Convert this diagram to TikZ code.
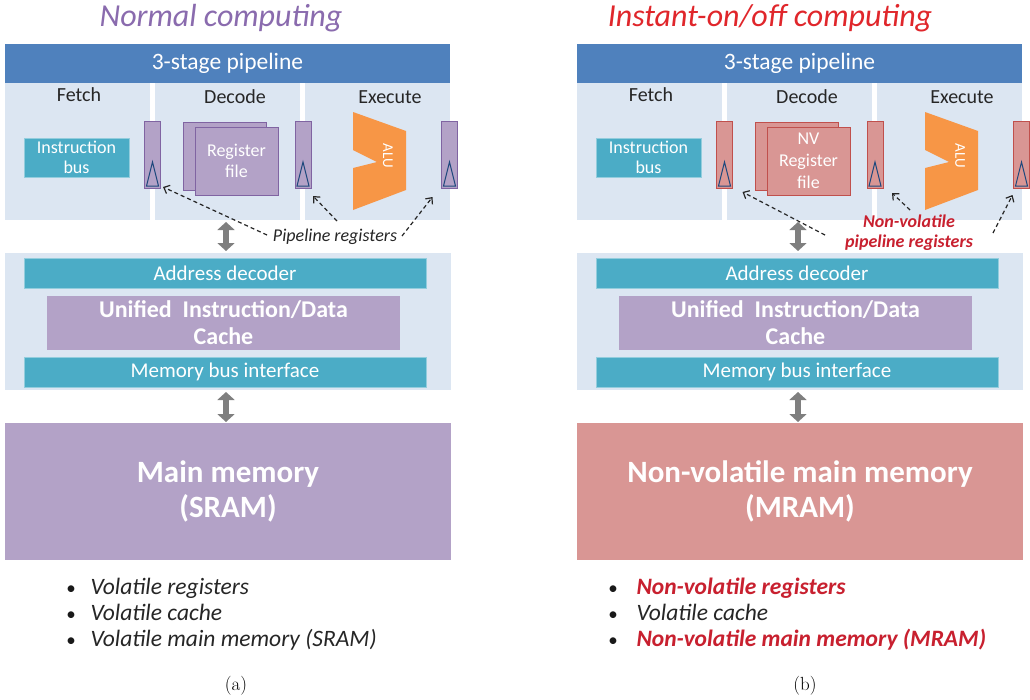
\documentclass[tikz,border=0pt]{standalone}
\usepackage{fontspec}
\setmainfont{Carlito}
\newfontfamily\lmr{Latin Modern Roman}
\usetikzlibrary{arrows.meta,calc}
\definecolor{hdrc}{HTML}{4F81BD}
\definecolor{panec}{HTML}{DCE6F2}
\definecolor{busc}{HTML}{4BACC6}
\definecolor{purc}{HTML}{B3A2C7}
\definecolor{purd}{HTML}{8064A2}
\definecolor{redc}{HTML}{D99694}
\definecolor{redd}{HTML}{C0504D}
\definecolor{aluc}{HTML}{F79646}
\definecolor{tric}{HTML}{1F497D}
\definecolor{titp}{HTML}{8A6BAE}
\definecolor{titr}{HTML}{E0262B}
\definecolor{nvred}{HTML}{C8202F}
\definecolor{arrg}{HTML}{7F7F7F}
\newcommand\fsz[2]{\fontsize{#1}{#2}\selectfont}
\begin{document}
\begin{tikzpicture}[x=1pt,y=-1pt,
 box/.style={rectangle,inner sep=0pt,outer sep=0pt},
 pane/.style={box,fill=panec},
 hdr/.style={box,fill=hdrc,text=white,font=\fsz{23.5}{28},minimum width=445pt,minimum height=39pt},
 sect/.style={pane,minimum width=145pt,minimum height=137pt},
 bus/.style={box,fill=busc,draw=busc!60!white,line width=0.6pt,text=white},
 preg/.style={box,minimum width=16pt,minimum height=67pt,line width=0.8pt},
 tri/.style={draw=tric,line width=1pt},
 rfile/.style={box,minimum width=83pt,minimum height=68pt,line width=0.8pt,text=white,align=center,font=\fsz{18}{21}},
 stage/.style={font=\fsz{20}{24},text=black!85},
 parrow/.style={dash pattern=on 4pt off 3pt,line width=1.2pt,black!85,-{Straight Barb[length=5pt,width=9pt]}},
 dbl/.style={line width=6pt,arrg,{Triangle[length=8pt,width=17pt]}-{Triangle[length=8pt,width=17pt]}},
 bdot/.style={anchor=base,font=\fsz{19}{22},text=black!90},
 bull/.style={anchor=base west,font=\fsz{23.5}{26}\itshape,text=black!85},
 nvbull/.style={bull,font=\fsz{23.5}{26}\bfseries\itshape,text=nvred},
 wide/.style={box,minimum width=446pt,minimum height=137pt},
 bar/.style={bus,minimum width=402pt,minimum height=30pt,font=\fsz{21}{24}},
 cache/.style={box,fill=purc,minimum width=353pt,minimum height=54pt,text=white,align=center,font=\fsz{24}{27}\bfseries},
 mainm/.style={wide,text=white,align=center,font=\fsz{31}{35}\bfseries},
 sub/.style={font=\lmr\fsz{19}{24}}
]
\useasboundingbox[fill=white] (0,0) rectangle (1030,699);

% ================= (a) =================
\node[font=\fsz{32}{36}\itshape,text=titp] (titleL) at (221,18) {Normal computing};
\node[hdr] (hdrL) at (227.5,63.5) {3-stage pipeline};
\node[box,minimum width=445pt,minimum height=176pt] (pipeL) at (227.5,132) {};
\node[sect] (fetchL) at (77.5,151.5) {};
\node[sect] (decL) at (227.5,151.5) {};
\node[sect] (exeL) at (377.5,151.5) {};
\node[stage] (fL) at (79,95) {Fetch};
\node[stage] (dL) at (235,97) {Decode};
\node[stage] (eL) at (390,97) {Execute};
\node[bus,minimum width=105pt,minimum height=39pt,align=center,font=\fsz{18}{20}] (ibL) at (76.5,157.5) {Instruction\\bus};
\node[rfile,fill=purc,draw=purd] (rfbL) at (225,156) {};
\node[rfile,fill=purc,draw=purd] (rffL) at (236.5,161) {Register\\file};
\node[preg,fill=purc,draw=purd] (r1L) at (152.5,154.5) {};
\node[preg,fill=purc,draw=purd] (r2L) at (303,154.5) {};
\node[preg,fill=purc,draw=purd] (r3L) at (449.5,154.5) {};
\foreach \r in {r1L,r2L,r3L}
  \draw[tri] ([xshift=-6pt,yshift=2pt]\r.south) -- ([yshift=26pt]\r.south) -- ([xshift=6pt,yshift=2pt]\r.south) -- cycle;
\fill[aluc] (353,112) -- (406,131) -- (406,190) -- (353,210) -- (353,168) -- (377,162) -- (353,150) -- cycle;
\node[rotate=-90,text=white,font=\fsz{15}{17}] (aluL) at (388,156) {ALU};
\node[font=\fsz{18}{21}\itshape,text=black!85] (plL) at (335,237) {Pipeline registers};
\coordinate (a1L) at (267,235);
\coordinate (a2L) at (337,221);
\coordinate (a3L) at (402,236);
\draw[parrow] (a1L) -- ($(r1L.south east)+(2.5,-1)$);
\draw[parrow] (a2L) -- ($(r2L.south east)+(2,8)$);
\draw[parrow] (a3L) -- ($(r3L.south west)+(-9,9)$);
\node[pane,minimum width=446pt,minimum height=137pt] (memL) at (228,321.5) {};
\node[bar] (adL) at (225,273) {Address decoder};
\node[cache] (cacheL) at (223.5,323) {Unified\ \ Instruction/Data\\Cache};
\node[bar] (mbL) at (225,372) {Memory bus interface};
\node[mainm,fill=purc] (mainL) at (228,491.5) {Main memory\\(SRAM)};
\draw[dbl] ($(pipeL.south)+(-1.5,2)$) -- ($(pipeL.south |- memL.north)+(-1.5,-2)$);
\draw[dbl] ($(memL.south)+(-2,2)$) -- ($(memL.south |- mainL.north)+(-2,-1)$);
\node[bdot] (d1L) at (71,594) {•};
\node[bdot] (d2L) at (71,620) {•};
\node[bdot] (d3L) at (71,646) {•};
\node[bull] (t1L) at (87,594) {Volatile registers};
\node[bull] (t2L) at (87,620) {Volatile cache};
\node[bull] (t3L) at (87,646) {Volatile main memory (SRAM)};
\node[sub] (capL) at (236,686) {(a)};

% ================= (b) =================
\node[font=\fsz{32}{36}\itshape,text=titr] (titleR) at (770,18) {Instant-on/off computing};
\begin{scope}[xshift=572pt]
\node[hdr] (hdrR) at (227.5,63.5) {3-stage pipeline};
\node[box,minimum width=445pt,minimum height=176pt] (pipeR) at (227.5,132) {};
\node[sect] (fetchR) at (77.5,151.5) {};
\node[sect] (decR) at (227.5,151.5) {};
\node[sect] (exeR) at (377.5,151.5) {};
\node[stage] (fR) at (79,95) {Fetch};
\node[stage] (dR) at (235,97) {Decode};
\node[stage] (eR) at (390,97) {Execute};
\node[bus,minimum width=105pt,minimum height=39pt,align=center,font=\fsz{18}{20}] (ibR) at (76.5,157.5) {Instruction\\bus};
\node[rfile,fill=redc,draw=redd] (rfbR) at (225,156) {};
\node[rfile,fill=redc,draw=redd,font=\fsz{18}{22}] (rffR) at (236.5,161) {NV\\Register\\file};
\node[preg,fill=redc,draw=redd] (r1R) at (152.5,154.5) {};
\node[preg,fill=redc,draw=redd] (r2R) at (303,154.5) {};
\node[preg,fill=redc,draw=redd] (r3R) at (449.5,154.5) {};
\foreach \r in {r1R,r2R,r3R}
  \draw[tri] ([xshift=-6pt,yshift=2pt]\r.south) -- ([yshift=26pt]\r.south) -- ([xshift=6pt,yshift=2pt]\r.south) -- cycle;
\fill[aluc] (353,112) -- (406,131) -- (406,190) -- (353,210) -- (353,168) -- (377,162) -- (353,150) -- cycle;
\node[rotate=-90,text=white,font=\fsz{15}{17}] (aluR) at (388,156) {ALU};
\node[font=\fsz{18}{20}\bfseries\itshape,text=nvred,align=center] (plR) at (337,233) {Non-volatile\\pipeline registers};
\coordinate (a1R) at (253,235);
\coordinate (a2R) at (338,210);
\coordinate (a3R) at (421,233);
\draw[parrow] (a1R) -- ($(r1R.south east)+(10,4)$);
\draw[parrow] (a2R) -- ($(r2R.south east)+(9,5)$);
\draw[parrow] (a3R) -- ($(r3R.south west)+(-1,7)$);
\node[pane,minimum width=446pt,minimum height=137pt] (memR) at (228,321.5) {};
\node[bar] (adR) at (225,273) {Address decoder};
\node[cache] (cacheR) at (223.5,323) {Unified\ \ Instruction/Data\\Cache};
\node[bar] (mbR) at (225,372) {Memory bus interface};
\node[mainm,fill=redc] (mainR) at (228,491.5) {Non-volatile main memory\\(MRAM)};
\draw[dbl] ($(pipeR.south)+(-1.5,2)$) -- ($(pipeR.south |- memR.north)+(-1.5,-2)$);
\draw[dbl] ($(memR.south)+(-2,2)$) -- ($(memR.south |- mainR.north)+(-2,-1)$);
\node[bdot] (d1R) at (41,594) {•};
\node[bdot] (d2R) at (41,620) {•};
\node[bdot] (d3R) at (41,646) {•};
\node[nvbull] (t1R) at (61,594) {Non-volatile registers};
\node[bull] (t2R) at (61,620) {Volatile cache};
\node[nvbull] (t3R) at (61,646) {Non-volatile main memory (MRAM)};
\node[sub] (capR) at (233,686) {(b)};
\end{scope}
\end{tikzpicture}
\end{document}
